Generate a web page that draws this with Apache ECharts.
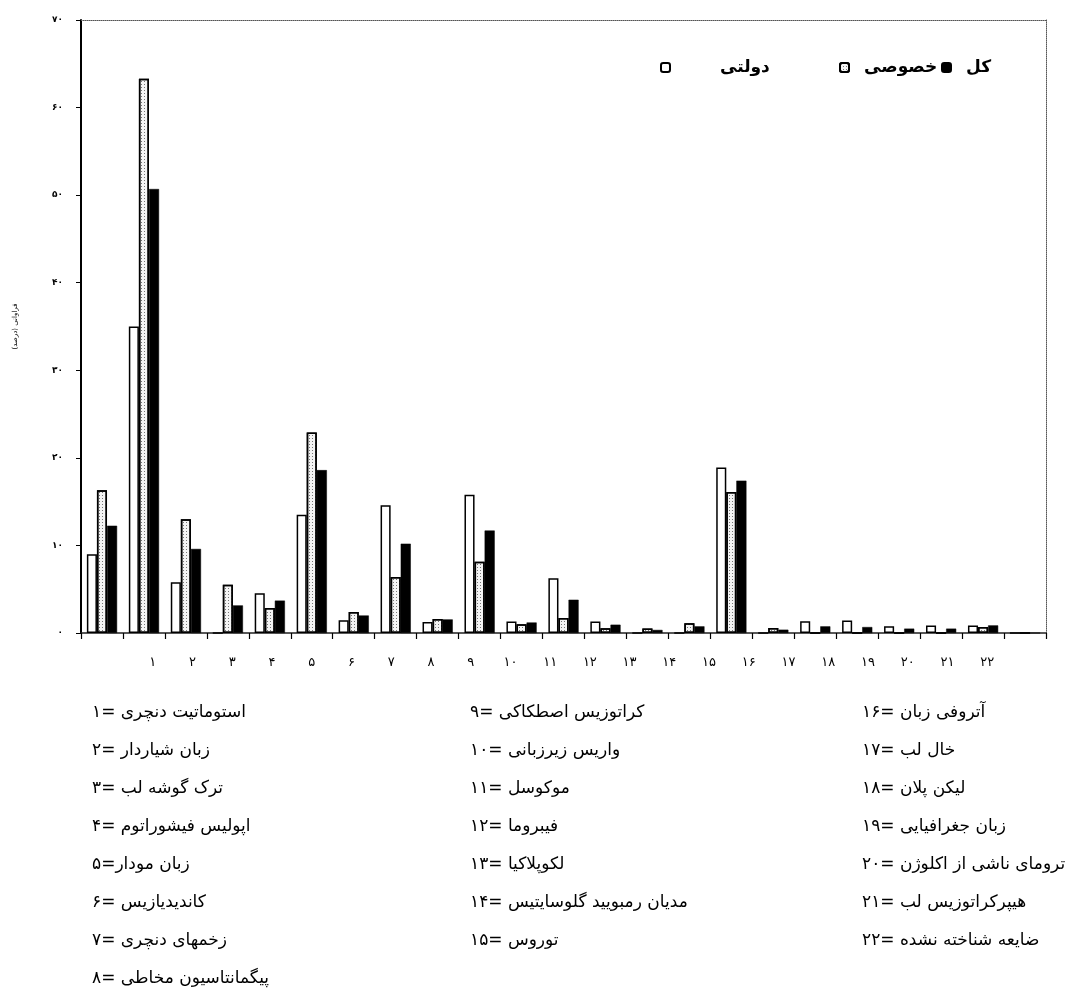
<!DOCTYPE html>
<html>
<head>
<meta charset="utf-8">
<script src="https://cdn.jsdelivr.net/npm/echarts@6/dist/echarts.min.js"></script>
<style>
html,body{margin:0;padding:0;background:#fff;}
#chart{width:1069px;height:990px;}
</style>
</head>
<body>
<div id="chart"></div>
<script>
// ---- data ----
const categories = ['c0','c1','c2','c3','c4','c5','c6','c7','c8','c9','c10','c11','c12','c13','c14','c15','c16','c17','c18','c19','c20','c21','c22'];
const xTickLabels = ['۱','۲','۳','۴','۵','۶','۷','۸','۹','۱۰','۱۱','۱۲','۱۳','۱۴','۱۵','۱۶','۱۷','۱۸','۱۹','۲۰','۲۱','۲۲'];
const yTickLabels = ['۰','۱۰','۲۰','۳۰','۴۰','۵۰','۶۰','۷۰'];
const seriesNames = ['دولتی','خصوصی','کل'];
const dolati  = [9.0, 35.0, 5.8, 0, 4.55, 13.5, 1.45, 14.6, 1.25, 15.8, 1.3, 6.25, 1.3, 0, 0, 18.9, 0, 1.33, 1.44, 0.76, 0.87, 0.87, 0];
const khosusi = [16.3, 63.3, 13.0, 5.5, 2.85, 22.9, 2.4, 6.4, 1.6, 8.15, 1.0, 1.7, 0.55, 0.5, 1.1, 16.1, 0.57, 0, 0, 0, 0, 0.68, 0];
const kol     = [12.25, 50.7, 9.6, 3.15, 3.7, 18.6, 2.0, 10.2, 1.55, 11.7, 1.2, 3.8, 0.95, 0.35, 0.76, 17.4, 0.38, 0.76, 0.68, 0.5, 0.5, 0.87, 0];
const yAxisName = 'فراوانی (درصد)';
const keyItems = [
  'استوماتیت دنچری =۱',
  'زبان شیاردار =۲',
  'ترک گوشه لب =۳',
  'اپولیس فیشوراتوم =۴',
  'زبان مودار=۵',
  'کاندیدیازیس =۶',
  'زخمهای دنچری =۷',
  'پیگمانتاسیون مخاطی =۸',
  'کراتوزیس اصطکاکی =۹',
  'واریس زیرزبانی =۱۰',
  'موکوسل =۱۱',
  'فیبروما =۱۲',
  'لکوپلاکیا =۱۳',
  'مدیان رمبویید گلوسایتیس =۱۴',
  'توروس =۱۵',
  'آتروفی زبان =۱۶',
  'خال لب =۱۷',
  'لیکن پلان =۱۸',
  'زبان جغرافیایی =۱۹',
  'ترومای ناشی از اکلوژن =۲۰',
  'هیپرکراتوزیس لب =۲۱',
  'ضایعه شناخته نشده =۲۲'
];
const keyColumns = [[0,8],[8,15],[15,22]];

// ---- layout / style ----
const FONT = '"DejaVu Sans", sans-serif';
const colX = [92, 470, 862];
const rowY0 = 713, rowDY = 38;

const graphics = [];
keyColumns.forEach((rng, ci) => {
  for (let i = rng[0]; i < rng[1]; i++) {
    graphics.push({
      type: 'text',
      style: {
        text: keyItems[i],
        x: colX[ci],
        y: rowY0 + (i - rng[0]) * rowDY,
        font: '17px ' + FONT,
        fill: '#000',
        verticalAlign: 'middle',
        align: 'left'
      }
    });
  }
});

const chart = echarts.init(document.getElementById('chart'), null, {renderer: 'canvas'});
const dotDecal = {
  symbol: 'rect', symbolSize: 1, color: '#777',
  dashArrayX: [1, 2], dashArrayY: [1, 2], rotation: 0
};
const legendCommon = {
  orient: 'horizontal', itemWidth: 9, itemHeight: 9,
  textStyle: {fontFamily: FONT, fontSize: 17, fontWeight: 'bold', color: '#000'},
  selectedMode: false, top: 54
};
const option = {
  backgroundColor: '#fff',
  animation: false,
  grid: [
    {left: 81, right: 23, top: 20, bottom: 357, containLabel: false},
    {left: 133, right: 62, top: 20, bottom: 357, containLabel: false}
  ],
  legend: [
    Object.assign({}, legendCommon, {data: [seriesNames[0]], left: 655, textStyle: Object.assign({}, legendCommon.textStyle, {padding: [0,0,0,45]})}),
    Object.assign({}, legendCommon, {data: [seriesNames[1]], left: 834, textStyle: Object.assign({}, legendCommon.textStyle, {padding: [0,0,0,10]})}),
    Object.assign({}, legendCommon, {data: [seriesNames[2]], left: 936, textStyle: Object.assign({}, legendCommon.textStyle, {padding: [0,0,0,10]})})
  ],
  xAxis: [
    {
      type: 'category', data: categories, gridIndex: 0, position: 'bottom',
      axisLine: {lineStyle: {color: '#222', width: 1.5}},
      axisTick: {show: true, length: 6, lineStyle: {color: '#000', width: 1.2}},
      axisLabel: {show: false},
      splitLine: {show: false}
    },
    {
      type: 'category', data: xTickLabels, gridIndex: 1, position: 'bottom',
      axisLine: {show: false}, axisTick: {show: false},
      axisLabel: {show: true, interval: 0, margin: 23, fontFamily: FONT, fontSize: 13, color: '#000'},
      splitLine: {show: false}
    },
    {
      type: 'value', gridIndex: 0, position: 'top', min: 0, max: 1,
      axisLine: {show: true, onZero: false, lineStyle: {color: '#555', width: 1, type: 'dotted'}},
      axisTick: {show: false}, axisLabel: {show: false}, splitLine: {show: false}
    }
  ],
  yAxis: [
    {
      type: 'value', gridIndex: 0, min: 0, max: 70, interval: 10,
      name: yAxisName, nameLocation: 'middle', nameRotate: 90, nameGap: 62,
      nameTextStyle: {fontFamily: FONT, fontSize: 7, color: '#000'},
      axisLine: {show: true, lineStyle: {color: '#000', width: 2}},
      axisTick: {show: true, length: 5, lineStyle: {color: '#000'}},
      axisLabel: {margin: 18, fontFamily: FONT, fontSize: 9, fontWeight: 'bold', color: '#000',
        formatter: v => yTickLabels[Math.round(v / 10)]},
      splitLine: {show: false}
    },
    {
      type: 'value', gridIndex: 1, min: 0, max: 70, show: false
    },
    {
      type: 'value', gridIndex: 0, position: 'right', min: 0, max: 70,
      axisLine: {show: true, onZero: false, lineStyle: {color: '#555', width: 1, type: 'dotted'}},
      axisTick: {show: false}, axisLabel: {show: false}, splitLine: {show: false}
    }
  ],
  series: [
    {
      name: seriesNames[0], type: 'bar', xAxisIndex: 0, yAxisIndex: 0, data: dolati,
      barGap: '0%', barCategoryGap: '28%',
      itemStyle: {color: '#fff', borderColor: '#000', borderWidth: 1.5}
    },
    {
      name: seriesNames[1], type: 'bar', xAxisIndex: 0, yAxisIndex: 0, data: khosusi,
      barGap: '0%', barCategoryGap: '28%',
      itemStyle: {color: '#f4f4f4', borderColor: '#000', borderWidth: 1.5, decal: dotDecal}
    },
    {
      name: seriesNames[2], type: 'bar', xAxisIndex: 0, yAxisIndex: 0, data: kol,
      barGap: '0%', barCategoryGap: '28%',
      itemStyle: {color: '#000', borderColor: '#000', borderWidth: 0.5}
    }
  ],
  graphic: graphics
};
chart.setOption(option);
</script>
</body>
</html>
